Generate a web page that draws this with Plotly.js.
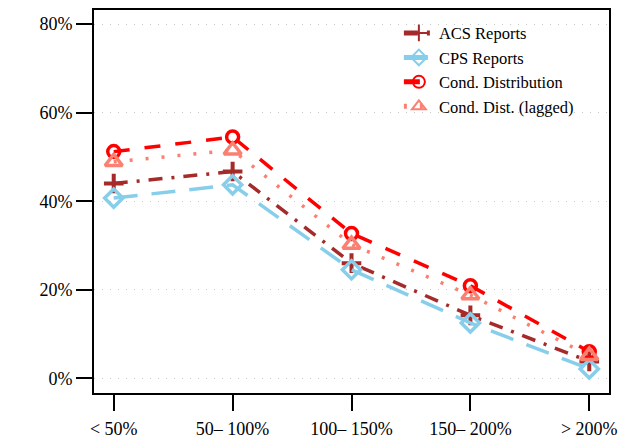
<!DOCTYPE html>
<html>
<head>
<meta charset="utf-8">
<script src="https://cdn.plot.ly/plotly-3.0.1.min.js"></script>
<style>
html,body{margin:0;padding:0;background:#fff;}
#chart{width:618px;height:440px;}
</style>
</head>
<body>
<div id="chart"></div>
<script>
const categories = ["< 50%", "50\u2013 100%", "100\u2013 150%", "150\u2013 200%", "> 200%"];
const acsReports = [44.0, 46.7, 26.0, 14.2, 3.8];
const cpsReports = [40.7, 43.7, 24.5, 12.5, 2.1];
const condDistribution = [51.2, 54.5, 32.7, 20.9, 6.0];
const condDistLagged = [48.9, 51.5, 30.2, 18.8, 5.1];
const yTicks = [0, 20, 40, 60, 80];

const serif = "Liberation Serif, Times New Roman, serif";

const traces = [
  {
    name: "ACS Reports", x: categories, y: acsReports, type: "scatter", mode: "lines+markers",
    line: {color: "#A52A2A", width: 3.5, dash: "14px,9px,3px,9px"},
    marker: {symbol: "cross-thin-open", size: 14, color: "#A52A2A", line: {color: "#A52A2A", width: 4}}
  },
  {
    name: "CPS Reports", x: categories, y: cpsReports, type: "scatter", mode: "lines+markers",
    line: {color: "#87CEEB", width: 3.5, dash: "24px,14px"},
    marker: {symbol: "diamond-open", size: 14, color: "#87CEEB", line: {color: "#87CEEB", width: 3.5}}
  },
  {
    name: "Cond. Distribution", x: categories, y: condDistribution, type: "scatter", mode: "lines+markers",
    line: {color: "#FF0000", width: 3.5, dash: "16px,15px"},
    marker: {symbol: "circle-open", size: 12, color: "#FF0000", line: {color: "#FF0000", width: 3.5}}
  },
  {
    name: "Cond. Dist. (lagged)", x: categories, y: condDistLagged, type: "scatter", mode: "lines+markers",
    line: {color: "#FA8072", width: 3.5, dash: "3px,13px"},
    marker: {symbol: "triangle-up-open", size: 15, color: "#FA8072", line: {color: "#FA8072", width: 3.5}}
  }
];

const layout = {
  width: 618, height: 440,
  margin: {l: 94, r: 9, t: 10, b: 47, pad: 0},
  paper_bgcolor: "#ffffff", plot_bgcolor: "#ffffff",
  font: {family: serif, size: 18, color: "#000000"},
  showlegend: true,
  legend: {
    x: 0.592, y: 0.985, xanchor: "left", yanchor: "top",
    bgcolor: "rgba(0,0,0,0)", borderwidth: 0,
    font: {family: serif, size: 16.5, color: "#000"},
    tracegroupgap: 0, itemsizing: "constant"
  },
  xaxis: {
    type: "category", range: [-0.166, 4.166],
    showline: true, mirror: true, linecolor: "#000", linewidth: 2,
    ticks: "outside", ticklen: 16, tickwidth: 2, tickcolor: "#000",
    ticklabelstandoff: 2,
    showgrid: false, zeroline: false,
    tickfont: {family: serif, size: 18, color: "#000"}
  },
  yaxis: {
    range: [-3.34, 83.2],
    tickvals: yTicks, ticktext: yTicks.map(v => v + "%"),
    showline: true, mirror: true, linecolor: "#000", linewidth: 2,
    ticks: "outside", ticklen: 16, tickwidth: 2, tickcolor: "#000",
    showgrid: true, gridcolor: "#c8c8c8", gridwidth: 1, griddash: "1px,7px",
    zeroline: false,
    tickfont: {family: serif, size: 18, color: "#000"}
  }
};

Plotly.newPlot("chart", traces, layout, {displayModeBar: false, staticPlot: true});
</script>
</body>
</html>
